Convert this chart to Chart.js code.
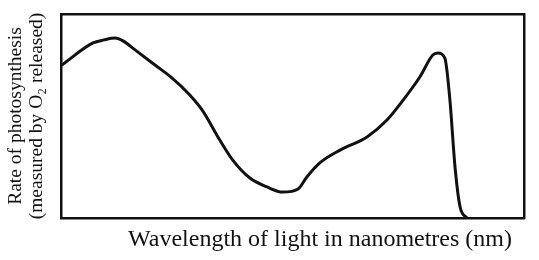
<!DOCTYPE html>
<html>
<head>
<meta charset="utf-8">
<script src="https://cdn.jsdelivr.net/npm/chart.js@4"></script>
<style>
  html, body { margin: 0; padding: 0; background: #fff; }
  #wrap { width: 539px; height: 260px; }
</style>
</head>
<body>
<div id="wrap"><canvas id="chart"></canvas></div>
<script>
// wavelength (relative position along the axis, 0-100)
const wavelength = [0.2, 6.9, 9.3, 11.7, 13.4, 16.0, 20.3, 24.0, 27.4, 30.5,
  34.3, 37.1, 40.8, 44.5, 47.9, 51.2, 53.1, 55.9, 60.3, 66.1,
  70.4, 73.9, 77.5, 80.3, 81.4, 82.9, 84.0, 85.1, 86.2, 87.7];

// rate of photosynthesis (relative, 0-100)
const rate = [75.0, 85.8, 87.3, 88.2, 86.8, 82.4, 75.0, 68.6, 61.3, 52.9,
  38.2, 28.4, 19.6, 15.2, 12.7, 14.2, 20.1, 27.0, 33.3, 39.7,
  48.0, 57.8, 69.1, 79.9, 80.9, 78.4, 57.8, 25.0, 5.4, 0];

const X_TITLE = 'Wavelength of light in nanometres (nm)\u2002';
const Y_TITLE = ['Rate of photosynthesis', '(measured by O\u2082 released)'];

const INK = '#111';
const SERIF = "'Liberation Serif', 'Times New Roman', serif";

// axis with no ticks, just a frame edge
const frame = (position, extra) => Object.assign({
  type: 'linear',
  position: position,
  min: 0,
  max: 100,
  ticks: { display: false },
  grid: { display: false, drawTicks: false },
  border: { display: true, color: INK, width: 2.5 },
}, extra);

new Chart(document.getElementById('chart'), {
  type: 'scatter',
  data: {
    datasets: [{
      data: wavelength.map((w, i) => ({ x: w, y: rate[i] })),
      showLine: true,
      borderColor: INK,
      borderWidth: 3,
      pointRadius: 0,
      cubicInterpolationMode: 'monotone',
      clip: false,
    }],
  },
  options: {
    responsive: true,
    maintainAspectRatio: false,
    animation: false,
    layout: { padding: 0 },
    plugins: {
      legend: { display: false },
      tooltip: { enabled: false },
    },
    scales: {
      x: frame('bottom', {
        title: {
          display: true,
          text: X_TITLE,
          color: INK,
          align: 'end',
          font: { family: SERIF, size: 24 },
          padding: { top: 0, bottom: 6 },
        },
        afterFit: (s) => { s.height = 42; },
      }),
      y: frame('left', {
        title: {
          display: true,
          text: Y_TITLE,
          color: INK,
          font: { family: SERIF, size: 19.5, lineHeight: 1.05 },
          padding: { top: 6, bottom: 0 },
        },
        afterFit: (s) => { s.width = 61; },
      }),
      x2: frame('top', { afterFit: (s) => { s.height = 14; } }),
      y2: frame('right', { afterFit: (s) => { s.width = 15; } }),
    },
  },
});
</script>
</body>
</html>
